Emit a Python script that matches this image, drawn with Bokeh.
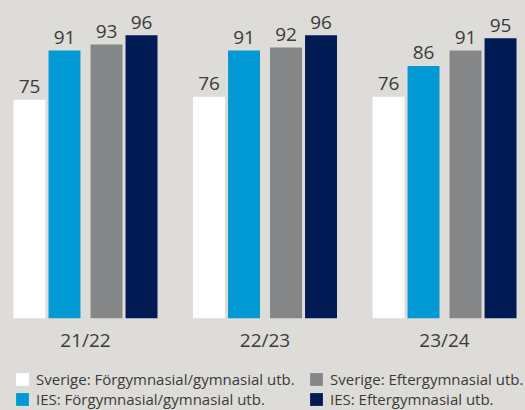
from bokeh.plotting import figure
from bokeh.layouts import column
from bokeh.models import ColumnDataSource, Legend, LegendItem, FixedTicker, Range1d
from bokeh.embed import file_html
from bokeh.resources import INLINE
from bokeh.core.properties import value

years = ["21/22", "22/23", "23/24"]
series_names = [
    "Sverige: Förgymnasial/gymnasial utb.",
    "IES: Förgymnasial/gymnasial utb.",
    "Sverige: Eftergymnasial utb.",
    "IES: Eftergymnasial utb.",
]
sverige_forgym = [75, 76, 76]
ies_forgym = [91, 91, 86]
sverige_efter = [93, 92, 91]
ies_efter = [96, 96, 95]

colors = ["#ffffff", "#0099d4", "#858688", "#001b54"]
offsets = [-0.312, -0.117, 0.117, 0.312]
bg = "#dedcd8"
txt = "#3a3a3a"
FONT = "Open Sans"

p = figure(width=525, height=355, output_backend="svg", toolbar_location=None,
           x_range=Range1d(-0.4735, 2.451), y_range=Range1d(3.88, 107.3),
           min_border_left=0, min_border_right=0, min_border_top=0, min_border_bottom=35)
p.background_fill_color = bg
p.border_fill_color = bg
p.outline_line_color = None
p.grid.visible = False
p.yaxis.visible = False

xaxis = p.xaxis[0]
xaxis.ticker = FixedTicker(ticks=list(range(len(years))))
xaxis.major_label_overrides = {i: y for i, y in enumerate(years)}
xaxis.axis_line_color = None
xaxis.major_tick_line_color = None
xaxis.minor_tick_line_color = None
xaxis.major_tick_in = 0
xaxis.major_tick_out = 0
xaxis.major_label_text_font = FONT
xaxis.major_label_text_font_size = "19px"
xaxis.major_label_text_color = txt
xaxis.major_label_standoff = 8

# legend figure: its frame covers the whole canvas so the legend is not clipped;
# its ranges lie far from the data, so the bars drawn there stay out of view
lf = figure(width=525, height=55, output_backend="svg", toolbar_location=None,
            x_range=Range1d(1000, 1001), y_range=Range1d(1000, 1001),
            min_border_left=0, min_border_right=0, min_border_top=0, min_border_bottom=0)
lf.background_fill_color = bg
lf.border_fill_color = bg
lf.outline_line_color = None
lf.grid.visible = False
lf.axis.visible = False

items = []
for vals, name, col, off in zip([sverige_forgym, ies_forgym, sverige_efter, ies_efter],
                                series_names, colors, offsets):
    src = ColumnDataSource(dict(x=[i + off for i in range(len(years))], top=vals,
                                lab=[str(v) for v in vals]))
    p.vbar(x="x", top="top", bottom=0, width=0.178, source=src,
           fill_color=col, line_color=None)
    p.text(x="x", y="top", text="lab", source=src, text_align="center",
           text_baseline="alphabetic", y_offset=-13, text_font=value(FONT),
           text_font_size="19px", text_color=txt)
    sw = lf.vbar(x="x", top="top", bottom=0, width=0.178, source=src,
                 fill_color=col, line_color=None)
    items.append(LegendItem(label=name, renderers=[sw]))

legend = Legend(items=items, ncols=2, orientation="vertical", location="top_left",
                label_text_font=FONT, label_text_font_size="15px", label_text_color=txt,
                glyph_width=16, glyph_height=16, label_standoff=6, spacing=0,
                label_width=272, padding=0, margin=14,
                background_fill_alpha=0, border_line_color=None)
lf.add_layout(legend, "center")

layout = column(p, lf, spacing=0)
layout.styles = {"background-color": bg}
open("out.html", "w").write(file_html(layout, INLINE))
